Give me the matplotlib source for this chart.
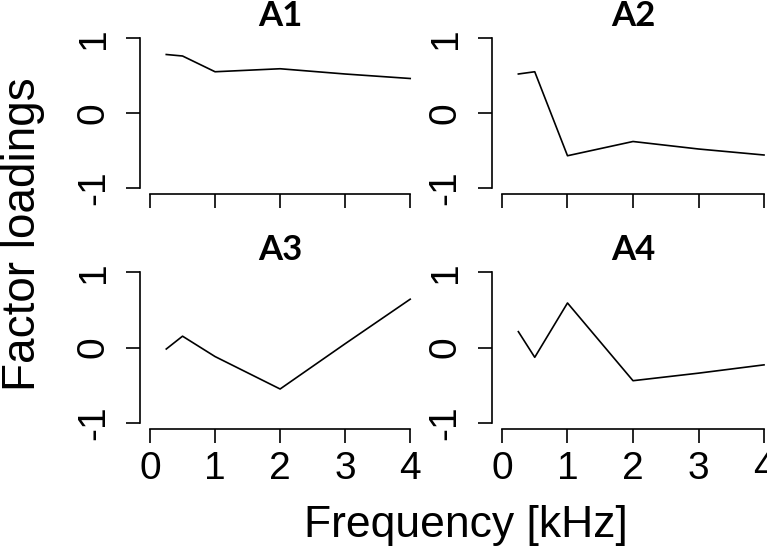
import matplotlib
matplotlib.use('Agg')
import matplotlib.pyplot as plt

# factor loadings
freq = [0.25, 0.5, 1, 2, 3, 4]
a1 = [0.78, 0.76, 0.55, 0.59, 0.52, 0.46]
a2 = [0.52, 0.55, -0.57, -0.38, -0.48, -0.56]
a3 = [-0.02, 0.15, -0.12, -0.55, 0.05, 0.64]
a4 = [0.21, -0.13, 0.59, -0.44, -0.34, -0.23]
titles = ['A1', 'A2', 'A3', 'A4']
xticks = [0, 1, 2, 3, 4]
yticks = [-1, 0, 1]

plt.rcParams['font.family'] = ['Liberation Sans', 'DejaVu Sans']

W, H = 767, 557
fig = plt.figure(figsize=(W / 100, H / 100), dpi=100)

# axes boxes in pixels (left, top, width, height)
boxes = [(139.6, 32, 281, 162), (491.5, 32, 283, 162),
         (139.6, 266, 281, 163), (491.5, 266, 283, 163)]
series = [a1, a2, a3, a4]

for i, (box, vals, name) in enumerate(zip(boxes, series, titles)):
    l, t, w, h = box
    ax = fig.add_axes([l / W, 1 - (t + h) / H, w / W, h / H])
    ax.plot(freq, vals, color='black', lw=1.2)
    ax.set_xlim(-0.16, 4.16)
    ax.set_ylim(-1.08, 1.08)
    for s in ['top', 'right']:
        ax.spines[s].set_visible(False)
    ax.spines['left'].set_bounds(-1, 1)
    ax.spines['bottom'].set_bounds(0, 4)
    for s in ['left', 'bottom']:
        ax.spines[s].set_linewidth(1.2)
    ax.set_xticks(xticks)
    ax.set_yticks(yticks)
    ax.set_yticklabels([str(v) for v in yticks], rotation=90, va='center')
    ax.tick_params(axis='both', length=10, width=1.2, labelsize=28)
    ax.tick_params(axis='y', pad=10)
    ax.tick_params(axis='x', pad=6)
    if i < 2:
        ax.tick_params(axis='x', labelbottom=False)
    ax.set_title(name, fontsize=25, fontweight='bold', family='Lato', pad=1)

fig.text(23 / W, 1 - 234 / H, 'Factor loadings', rotation=90,
         ha='center', va='center', fontsize=33)
fig.text(466 / W, 1 - 526 / H, 'Frequency [kHz]',
         ha='center', va='center', fontsize=32)

fig.savefig('out.png', dpi=100)
